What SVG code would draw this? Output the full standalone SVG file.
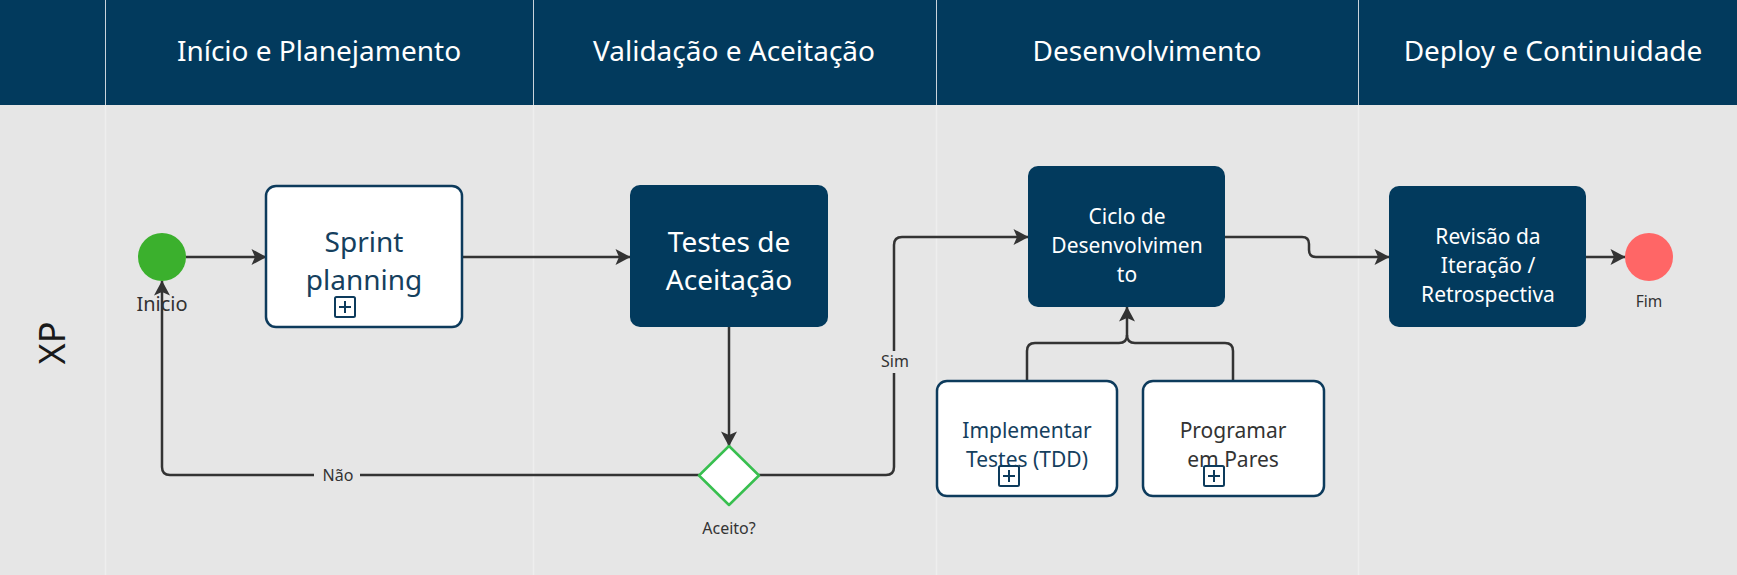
<svg xmlns="http://www.w3.org/2000/svg" width="1737" height="575" viewBox="0 0 1737 575">
<defs>
<style>
.hdr{fill:#023a5d}
.hdrtxt{font-family:"Noto Sans","Open Sans",sans-serif;font-size:28px;fill:#ffffff;text-anchor:middle}
.sep{stroke:#c9d3db;stroke-width:1}
.bsep{stroke:#eeeeee;stroke-width:1.5}
.task{fill:#ffffff;stroke:#0d3b5c;stroke-width:2.5}
.dtask{fill:#023a5d}
.t26{font-family:"Noto Sans","Open Sans",sans-serif;font-size:28px;text-anchor:middle}
.t21{font-family:"Noto Sans","Open Sans",sans-serif;font-size:21px;text-anchor:middle}
.t20{font-family:"Noto Sans","Open Sans",sans-serif;font-size:21px;text-anchor:middle}
.lbl{font-family:"Noto Sans","Open Sans",sans-serif;font-size:16px;fill:#333333;text-anchor:middle}
.conn{fill:none;stroke:#333333;stroke-width:2.5}
.plus{fill:none;stroke:#0d3b5c;stroke-width:2}
</style>
<marker id="arr" markerUnits="userSpaceOnUse" viewBox="0 0 16 18" refX="15" refY="9" markerWidth="16" markerHeight="18" orient="auto">
<path d="M0.5,1 L15.5,9 L0.5,17 L4,9 Z" fill="#333333"/>
</marker>
</defs>
<rect x="0" y="0" width="1737" height="575" fill="#e6e6e6"/>
<g id="header">
<rect class="hdr" x="0" y="0" width="1737" height="105"/>
<line class="sep" x1="105.5" y1="0" x2="105.5" y2="105"/>
<line class="sep" x1="533.5" y1="0" x2="533.5" y2="105"/>
<line class="sep" x1="936.5" y1="0" x2="936.5" y2="105"/>
<line class="sep" x1="1358.5" y1="0" x2="1358.5" y2="105"/>
<text class="hdrtxt" x="319" y="61">Início e Planejamento</text>
<text class="hdrtxt" x="734" y="61">Validação e Aceitação</text>
<text class="hdrtxt" x="1147" y="61">Desenvolvimento</text>
<text class="hdrtxt" x="1553" y="61">Deploy e Continuidade</text>
</g>
<g id="lane">
<line class="bsep" x1="105.5" y1="105" x2="105.5" y2="575"/>
<line class="bsep" x1="533.5" y1="105" x2="533.5" y2="575"/>
<line class="bsep" x1="936.5" y1="105" x2="936.5" y2="575"/>
<line class="bsep" x1="1358.5" y1="105" x2="1358.5" y2="575"/>
<text x="0" y="0" transform="translate(65,343) rotate(-90)" font-family="'Noto Sans','Open Sans',sans-serif" font-size="36" fill="#1a1a1a" text-anchor="middle">XP</text>
</g>
<g id="connectors">
<path class="conn" d="M186,257 H266" marker-end="url(#arr)"/>
<path class="conn" d="M462,257 H630" marker-end="url(#arr)"/>
<path class="conn" d="M729,327 V446" marker-end="url(#arr)"/>
<path class="conn" d="M699,475 H170 Q162,475 162,467 V281" marker-end="url(#arr)"/>
<path class="conn" d="M759,475 H886 Q894,475 894,467 V245 Q894,237 902,237 H1028" marker-end="url(#arr)"/>
<path class="conn" d="M1225,237 H1302 Q1309,237 1309,244 V250 Q1309,257 1316,257 H1389" marker-end="url(#arr)"/>
<path class="conn" d="M1586,257 H1625" marker-end="url(#arr)"/>
<path class="conn" d="M1027,381 V351 Q1027,343 1035,343 H1119 Q1127,343 1127,335 V307" marker-end="url(#arr)"/>
<path class="conn" d="M1233,381 V351 Q1233,343 1225,343 H1135 Q1127,343 1127,335"/>
<rect x="314" y="464" width="46" height="22" fill="#e6e6e6"/>
<text class="lbl" x="338" y="481">Não</text>
<rect x="878" y="351" width="34" height="22" fill="#e6e6e6"/>
<text class="lbl" x="895" y="367">Sim</text>
</g>
<g id="inicio">
<circle cx="162" cy="257" r="24" fill="#3bb02d"/>
<text x="162" y="311" font-family="'Noto Sans','Open Sans',sans-serif" font-size="20" fill="#333333" text-anchor="middle">Inicio</text>
</g>
<g id="sprint-planning">
<rect class="task" x="266" y="186" width="196" height="141" rx="10"/>
<text class="t26" x="364" y="252" fill="#15405e">Sprint</text>
<text class="t26" x="364" y="290" fill="#15405e">planning</text>
<rect class="plus" x="335" y="297" width="20" height="20" rx="1.5"/>
<path class="plus" d="M345,301 V313 M339,307 H351"/>
</g>
<g id="testes-aceitacao">
<rect class="dtask" x="630" y="185" width="198" height="142" rx="10"/>
<text class="t26" x="729" y="252" fill="#ffffff">Testes de</text>
<text class="t26" x="729" y="290" fill="#ffffff">Aceitação</text>
</g>
<g id="gateway">
<path d="M729,446 L759,475.5 L729,505 L699,475.5 Z" fill="#ffffff" stroke="#38bf4f" stroke-width="2.5" stroke-linejoin="round"/>
<text class="lbl" x="729" y="534">Aceito?</text>
</g>
<g id="ciclo">
<rect class="dtask" x="1028" y="166" width="197" height="141" rx="10"/>
<text class="t20" x="1127" y="224" fill="#ffffff">Ciclo de</text>
<text class="t20" x="1127" y="253" fill="#ffffff">Desenvolvimen</text>
<text class="t20" x="1127" y="282" fill="#ffffff">to</text>
</g>
<g id="implementar-testes">
<rect class="task" x="937" y="381" width="180" height="115" rx="10"/>
<text class="t21" x="1027" y="438" fill="#15405e">Implementar</text>
<text class="t21" x="1027" y="467" fill="#15405e">Testes (TDD)</text>
<rect class="plus" x="999" y="466" width="20" height="20" rx="1.5"/>
<path class="plus" d="M1009,470 V482 M1003,476 H1015"/>
</g>
<g id="programar-pares">
<rect class="task" x="1143" y="381" width="181" height="115" rx="10"/>
<text class="t21" x="1233" y="438" fill="#333333">Programar</text>
<text class="t21" x="1233" y="467" fill="#333333">em Pares</text>
<rect class="plus" x="1204" y="466" width="20" height="20" rx="1.5"/>
<path class="plus" d="M1214,470 V482 M1208,476 H1220"/>
</g>
<g id="revisao">
<rect class="dtask" x="1389" y="186" width="197" height="141" rx="10"/>
<text class="t20" x="1488" y="244" fill="#ffffff">Revisão da</text>
<text class="t20" x="1488" y="273" fill="#ffffff">Iteração /</text>
<text class="t20" x="1488" y="302" fill="#ffffff">Retrospectiva</text>
</g>
<g id="fim">
<circle cx="1649" cy="257" r="24" fill="#ff6666"/>
<text x="1649" y="307" font-family="'Noto Sans','Open Sans',sans-serif" font-size="15.5" fill="#333333" text-anchor="middle">Fim</text>
</g>
</svg>
